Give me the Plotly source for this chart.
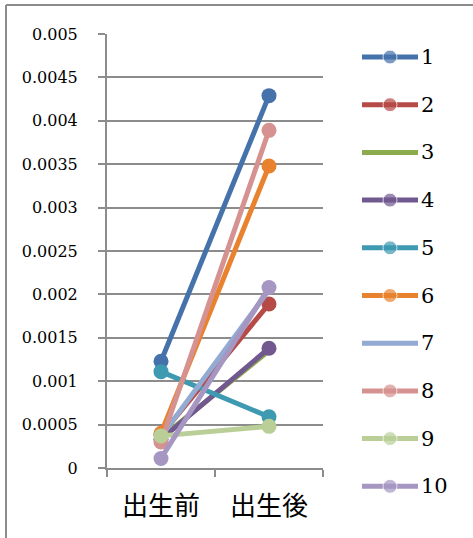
import plotly.graph_objects as go

# Categories and per-series values
categories = ["出生前", "出生後"]
series_names = ["1", "2", "3", "4", "5", "6", "7", "8", "9", "10"]
before = [0.00123, 0.00038, 0.00035, 0.00033, 0.00111, 0.00040, 0.00036, 0.00030, 0.00037, 0.00011]
after = [0.00429, 0.00189, 0.00135, 0.00138, 0.00059, 0.00348, 0.00205, 0.00389, 0.00048, 0.00208]
has_marker = [True, True, False, True, True, True, False, True, True, True]
colors = ["#4672AC", "#B54A46", "#8CAA4E", "#71588F", "#3E9AB1",
          "#E8822F", "#93AAD2", "#D59290", "#B9CF97", "#A596C2"]

y_ticks = [i * 0.0005 for i in range(11)]
y_tick_text = ["0", "0.0005", "0.001", "0.0015", "0.002", "0.0025",
               "0.003", "0.0035", "0.004", "0.0045", "0.005"]

W, H = 473, 538
ML = 107
PW = W - ML
GRAY = "#8C8C8C"
SERIF = "DejaVu Serif, Liberation Serif, serif"

fig = go.Figure()

# Data lines
for name, b, a, mk, c in zip(series_names, before, after, has_marker, colors):
    fig.add_trace(go.Scatter(
        x=categories, y=[b, a], name=name,
        mode="lines+markers" if mk else "lines",
        line=dict(color=c, width=5),
        marker=dict(size=15, color=c),
        showlegend=False, xaxis="x", yaxis="y",
    ))

# Legend drawn on its own axes: one row per series
for i, (name, mk, c) in enumerate(zip(series_names, has_marker, colors)):
    fig.add_trace(go.Scatter(
        x=[0, 0.5, 1], y=[i, i, i],
        mode="lines+markers" if mk else "lines",
        line=dict(color=c, width=5),
        marker=dict(size=[0, 14, 0], color=c),
        showlegend=False, xaxis="x2", yaxis="y2", hoverinfo="skip",
    ))
    fig.add_annotation(
        x=1, y=i, xref="x2", yref="y2", text=name, showarrow=False,
        xanchor="left", yanchor="middle", xshift=1,
        font=dict(family=SERIF, size=21, color="black"),
    )

y_top, y_bot = 34, 468
row0, row_step = 57, 47.7
r_top = -row0 / row_step
r_bot = r_top + H / row_step

fig.update_layout(
    width=W, height=H, autosize=False, showlegend=False,
    margin=dict(l=ML, r=0, t=0, b=0, pad=0, autoexpand=False),
    paper_bgcolor="white", plot_bgcolor="white",
    xaxis=dict(
        domain=[0, (323 - ML) / PW], type="category", range=[-0.5, 1.5],
        showgrid=False, showline=True, linecolor=GRAY, linewidth=2,
        ticks="outside", tickson="boundaries", ticklen=7, tickcolor=GRAY, tickwidth=2,
        tickfont=dict(family="Noto Sans CJK JP", size=26, color="black"),
        ticklabelstandoff=14, anchor="y", automargin=False,
    ),
    yaxis=dict(
        domain=[(H - y_bot) / H, (H - y_top) / H], range=[0, 0.005],
        tickvals=y_ticks, ticktext=y_tick_text,
        showgrid=True, gridcolor=GRAY, gridwidth=2,
        showline=True, linecolor=GRAY, linewidth=2,
        ticks="outside", ticklen=7, tickcolor=GRAY, tickwidth=2,
        tickfont=dict(family=SERIF, size=16, color="black"),
        ticklabelstandoff=17, zeroline=False, anchor="x", automargin=False,
    ),
    xaxis2=dict(
        domain=[(362 - ML) / PW, (418 - ML) / PW], range=[0, 1],
        visible=False, anchor="y2", automargin=False,
    ),
    yaxis2=dict(
        domain=[0, 1], range=[r_bot, r_top], visible=False, anchor="x2",
        automargin=False,
    ),
    shapes=[
        dict(type="line", xref="paper", yref="paper",
             x0=(6 - ML) / PW, x1=1.02, y0=(H - 5) / H, y1=(H - 5) / H,
             line=dict(color=GRAY, width=2)),
        dict(type="line", xref="paper", yref="paper",
             x0=(6 - ML) / PW, x1=(6 - ML) / PW, y0=(H - 5) / H, y1=-0.02,
             line=dict(color=GRAY, width=2)),
    ],
)

fig.write_html("out.html")
